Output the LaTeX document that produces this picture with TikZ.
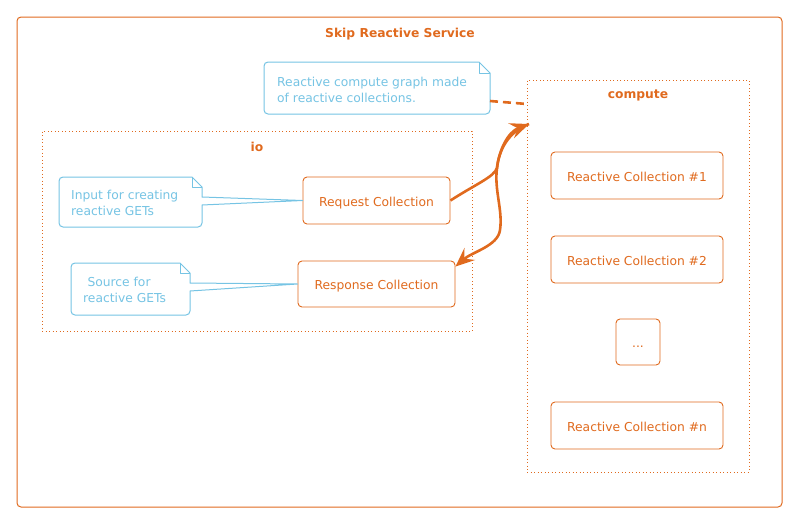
\documentclass[tikz,border=0pt]{standalone}
\usepackage{fontspec}
\setmainfont{DejaVu Sans}
\usetikzlibrary{arrows.meta,calc}
\definecolor{orng}{RGB}{224,106,30}
\definecolor{noteblue}{RGB}{118,196,228}
\begin{document}
\begin{tikzpicture}[x=1pt,y=-1pt,
  txt/.style={font=\fontsize{12.3}{16}\selectfont},
  coll/.style={txt, draw=orng, line width=0.9pt, rounded corners=4pt, fill=white, text=orng, inner sep=0pt, minimum height=47pt, text height=11pt, text depth=-1pt},
  cluster/.style={draw=orng, line width=0.9pt, dash pattern=on 0.9pt off 2.6pt, inner sep=0pt},
  ttl/.style={font=\fontsize{12.3}{16}\selectfont\bfseries, text=orng, anchor=base, inner sep=0pt},
  noteline/.style={draw=noteblue, line width=1pt, line join=round},
  notetext/.style={txt, text=noteblue, align=left, anchor=west, inner sep=0pt},
  flow/.style={draw=orng, line width=2.6pt, -{Stealth[length=19pt,width=16pt,inset=7pt]}},
  dep/.style={draw=orng, line width=2.6pt, dash pattern=on 8pt off 5pt}
]
\useasboundingbox (0,0) rectangle (793,517);

% outer frame
\node[draw=orng, line width=1pt, rounded corners=4pt, minimum width=765pt, minimum height=490pt, inner sep=0pt] (svc) at (399.5,262) {};
\node[ttl] (svct) at (400,37.5) {Skip Reactive Service};

% clusters
\node[cluster, minimum width=430pt, minimum height=200pt] (io) at (257,231) {};
\node[ttl] (iot) at (257,151.5) {io};
\node[cluster, minimum width=222pt, minimum height=392pt] (compute) at (638,276) {};
\node[ttl] (computet) at (638,98.5) {compute};

% io boxes
\node[coll, minimum width=147pt] (req) at (376.5,200.5) {Request Collection};
\node[coll, minimum width=157pt, minimum height=46pt] (resp) at (376.5,284) {Response Collection};

% compute boxes
\node[coll, minimum width=172pt] (rc1) at (637,175.5) {Reactive Collection \#1};
\node[coll, minimum width=172pt] (rc2) at (637,259.5) {Reactive Collection \#2};
\node[coll, minimum width=44pt, minimum height=46pt] (dots) at (638,342) {...};
\node[coll, minimum width=172pt] (rcn) at (637,425.5) {Reactive Collection \#n};

% note 1
\coordinate (n1a) at (202,197);
\coordinate (n1b) at (202,205);
\draw[noteline, fill=white] (192,177) [rounded corners=4pt] -- (59,177) -- (59,227) -- (202,227) [sharp corners] -- (n1b) -- (req.west) -- (n1a) -- (202,187) -- cycle;
\draw[noteline] (192,177) -- (192,187) -- (202,187);
\node[notetext] (n1) at (71,202.5) {Input for creating\\reactive GETs};

% note 2
\coordinate (n2a) at (190,283);
\coordinate (n2b) at (190,291);
\draw[noteline, fill=white] (180,263) [rounded corners=4pt] -- (71,263) -- (71,315) -- (190,315) [sharp corners] -- (n2b) -- (resp.west) -- (n2a) -- (190,273) -- cycle;
\draw[noteline] (180,263) -- (180,273) -- (190,273);
\node[notetext] (n2) at (83,289.5) {\hspace{0.35em}Source for\\reactive GETs};

% note 3
\draw[noteline, fill=white] (479,62) [rounded corners=4pt] -- (264,62) -- (264,114) -- (490,114) [sharp corners] -- (490,73) -- cycle;
\draw[noteline] (479,62) -- (479,73) -- (490,73);
\node[notetext] (n3) at (277,89.5) {Reactive compute graph made\\of reactive collections.};
\coordinate (n3e) at (490,101);
\coordinate (cdep) at (527,104);
\draw[dep] (n3e) -- (cdep);

% flows
\coordinate (cin) at (529,124);
\coordinate (mid) at (497,168);
\draw[flow] (req.east) .. controls (476,184) and (494,177) .. (mid) .. controls (499,150) and (508,132) .. (cin);
\draw[flow] (cin) .. controls (508,132) and (499,150) .. (mid) .. controls (494,190) and (503,210) .. (500,230) .. controls (498,246) and (472,252) .. ($(resp.north east)+(0,6)$);
\end{tikzpicture}
\end{document}
